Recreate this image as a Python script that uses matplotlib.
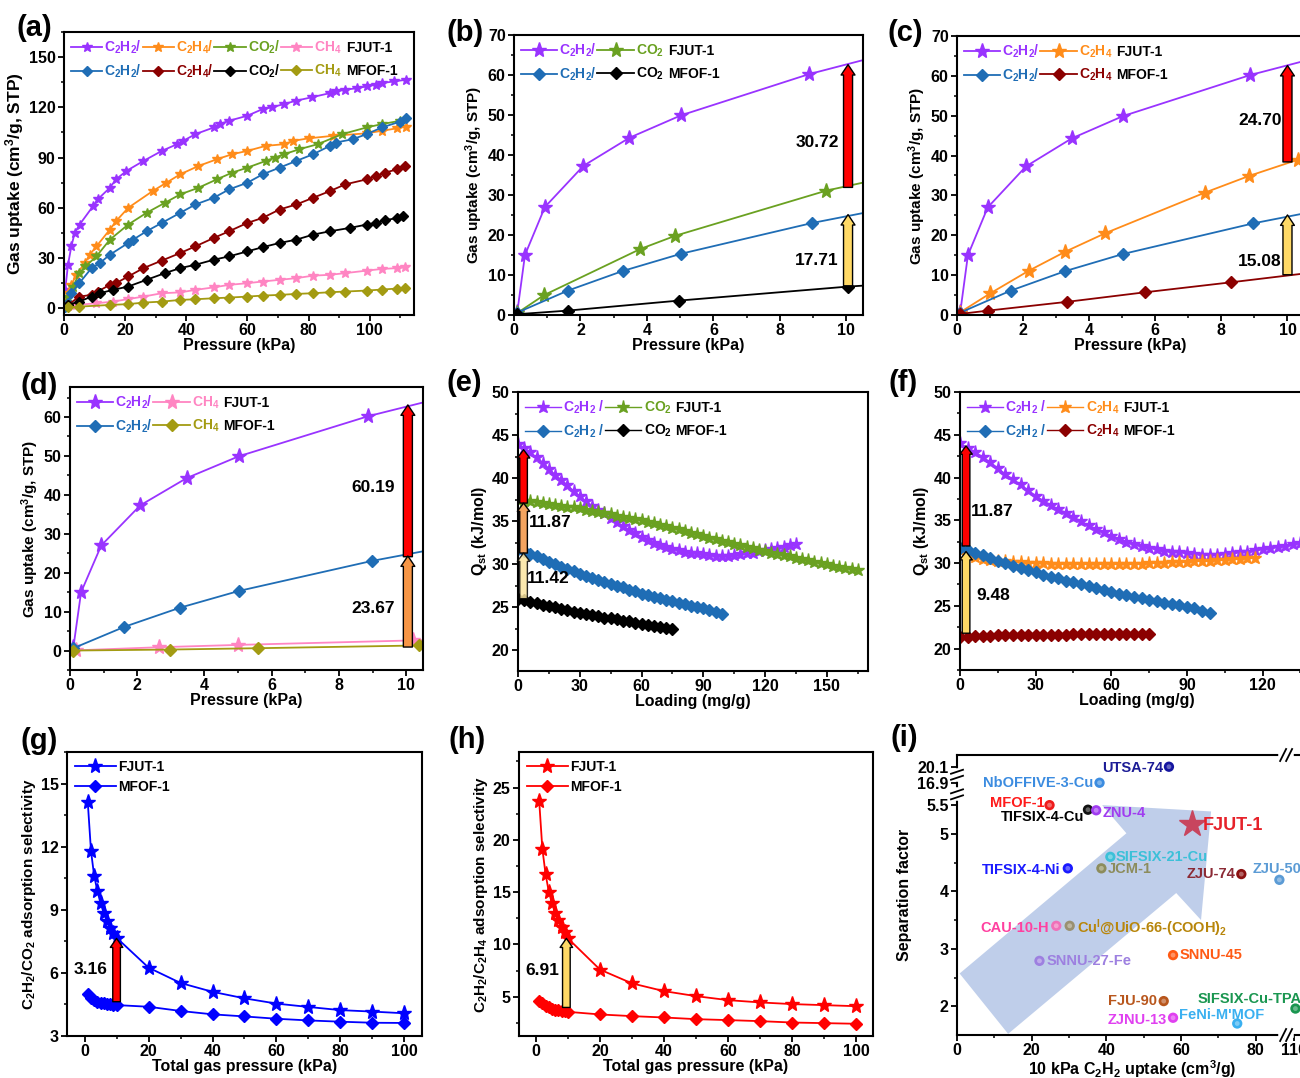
import numpy as np
import matplotlib
matplotlib.use('Agg')
import matplotlib.pyplot as plt
from matplotlib.lines import Line2D
from matplotlib.patches import Polygon
from matplotlib.transforms import IdentityTransform
from matplotlib.ticker import MultipleLocator, FixedLocator

plt.rcParams['font.family'] = ['Liberation Sans', 'DejaVu Sans']
plt.rcParams['font.weight'] = 'bold'
plt.rcParams['axes.labelweight'] = 'bold'
plt.rcParams['mathtext.fontset'] = 'custom'
plt.rcParams['mathtext.default'] = 'regular'
plt.rcParams['axes.linewidth'] = 1.5
for k in ('xtick', 'ytick'):
    plt.rcParams[k + '.direction'] = 'out'
    plt.rcParams[k + '.major.width'] = 1.3
    plt.rcParams[k + '.major.size'] = 4
    plt.rcParams[k + '.minor.width'] = 1.1
    plt.rcParams[k + '.minor.size'] = 2.5
    plt.rcParams[k + '.labelsize'] = 11.5
    plt.rcParams[k + '.major.pad'] = 2

PURPLE = '#9933ff'
ORANGE = '#ff8c1a'
GREEN = '#6aa121'
PINK = '#ff85c2'
BLUE = '#1f6db5'
DRED = '#8b0000'
OLIVE = '#a39b12'

# ---------------- (a) isotherms 0-110 kPa ----------------
a_fj_c2h2_x = [0.4, 1.3, 2.4, 3.5, 5.1, 9.5, 11, 15, 17, 20.4, 26, 32, 37, 39, 43, 49, 51, 54, 60, 65, 68, 72, 76, 81, 87, 89, 92, 96, 99, 102, 104, 108, 112]
a_fj_c2h2_y = [11, 26, 37, 45, 50, 61, 65, 72, 77, 82, 88, 94, 98, 100, 104, 108, 110, 112, 115, 119, 120, 122, 124, 126, 128.5, 129.5, 130.5, 131.5, 132.5, 133.5, 134.5, 135.5, 136.5]
a_fj_c2h4_x = [0.4, 1.3, 2.4, 4, 6.8, 8.4, 10.6, 15, 17, 21, 29, 33.5, 38, 44, 50, 55, 60, 66, 72, 75, 80, 88, 99, 104, 109, 112]
a_fj_c2h4_y = [3, 9, 14, 20, 27, 32, 37, 47, 52, 60, 70, 75, 80, 85, 89, 92, 94, 97, 98, 100, 101.5, 103, 104.5, 106, 107.5, 108.5]
a_fj_co2_x = [0.4, 1.3, 3, 5, 7, 10.6, 15, 21, 27, 33, 38, 44, 50, 55, 60, 66, 69, 72, 77, 83, 91, 99, 104, 110]
a_fj_co2_y = [2, 7, 13, 21, 25, 31, 41, 50, 57, 63, 68, 72, 77, 81, 84, 88, 90, 92, 95, 98, 104, 108, 110, 112]
a_fj_ch4_x = [1.3, 4, 10.6, 16, 21, 26, 32, 38, 43, 49, 54, 60, 65, 70.5, 76, 81.5, 87, 92, 99, 104, 109, 111.5]
a_fj_ch4_y = [1.4, 2, 3, 4, 5.5, 7, 9, 9.5, 11, 12.5, 14, 15, 16, 17, 18, 19.5, 20, 21, 22.5, 23.5, 24, 24.5]
a_mf_c2h2_x = [0.4, 1.3, 2.4, 5, 9, 11.7, 15, 21, 22.6, 27, 32, 38, 43, 49, 54, 60, 65, 70.5, 76, 81.5, 87, 89, 94.5, 99, 104, 110, 112]
a_mf_c2h2_y = [1, 3, 9, 15, 24, 27, 32, 39, 41, 46, 51, 57, 62, 66, 71, 75, 80, 84, 88, 92, 97, 99, 101, 104, 108, 111.5, 113.5]
a_mf_c2h4_x = [1.3, 5, 9, 11, 15, 17, 21, 26, 32, 38, 43, 49, 54, 60, 65, 70.5, 76, 81.5, 87, 92, 99, 102, 105, 109, 111.5]
a_mf_c2h4_y = [2, 7, 8, 10, 14, 15, 19, 24, 28.5, 33, 37, 42, 46, 51, 54, 59, 62, 66, 70, 74, 77, 79, 81, 83, 85]
a_mf_co2_x = [1.3, 5, 9, 11.7, 16, 21, 27, 33, 38, 43, 49, 54, 60, 65, 70.5, 76, 81.5, 87, 93.5, 99, 102, 105, 109, 111]
a_mf_co2_y = [2, 4, 7, 9, 11, 13, 17, 21, 24, 26, 29, 31, 34, 36.5, 39, 41, 44, 46, 48, 50, 51, 52.5, 54, 55]
a_mf_ch4_x = [1.3, 5, 15, 21, 26, 32, 38, 43, 49, 54, 60, 65, 70.5, 76, 81.5, 87, 92, 99, 104, 109, 111.5]
a_mf_ch4_y = [0.5, 1, 2, 2.5, 3.4, 4, 5, 5.4, 6, 6.4, 7, 7.6, 8, 8.6, 9, 9.6, 10, 10.6, 11.2, 11.8, 12]

# ---------------- (b)-(d) isotherms 0-10 kPa ----------------
lp_fj_c2h2_x = [0.1, 0.33, 0.93, 2.09, 3.47, 5.02, 8.87, 11.0]
lp_fj_c2h2_y = [0.8, 15, 27, 37.3, 44.3, 49.9, 60.2, 64.8]
lp_fj_co2_x = [0.08, 0.91, 3.8, 4.85, 9.4, 11.0]
lp_fj_co2_y = [0.4, 5, 16.5, 19.8, 31.1, 34.0]
lp_fj_c2h4_x = [0.08, 1.0, 2.17, 3.28, 4.48, 7.5, 8.84, 10.33, 11.0]
lp_fj_c2h4_y = [0.6, 5.4, 11.1, 15.9, 20.5, 30.7, 34.9, 39.0, 40.5]
lp_fj_ch4_x = [0.18, 2.66, 5.01, 10.2, 11.0]
lp_fj_ch4_y = [0.05, 0.85, 1.45, 2.6, 2.8]
lp_mf_c2h2_x = [0.1, 1.62, 3.27, 5.02, 8.97, 11.0]
lp_mf_c2h2_y = [0.6, 6.1, 11.0, 15.3, 23.0, 26.3]
lp_mf_co2_x = [0.1, 1.62, 4.96, 10.04, 11.0]
lp_mf_co2_y = [0.2, 1.1, 3.6, 7.1, 7.6]
lp_mf_c2h4_x = [0.08, 0.94, 3.33, 5.69, 8.29, 10.6]
lp_mf_c2h4_y = [0.25, 1.1, 3.3, 5.7, 8.2, 10.5]
lp_mf_ch4_x = [0.1, 2.96, 5.6, 10.37, 11.0]
lp_mf_ch4_y = [0.0, 0.25, 0.6, 1.3, 1.4]

# ---------------- (e)-(f) Qst ----------------
load_165 = [0, 3, 6, 9, 12, 15, 18, 21, 24, 27, 30, 33, 36, 39, 42, 45, 48, 51, 54, 57, 60, 63, 66, 69,
            72, 75, 78, 81, 84, 87, 90, 93, 96, 99, 102, 105, 108, 111, 114, 117, 120, 123, 126, 129,
            132, 135, 138, 141, 144, 147, 150, 153, 156, 159, 162, 165]
load_135 = load_165[:46]
load_117 = load_165[:40]
load_99 = load_165[:34]
load_75 = load_165[:26]
q_fj_c2h2 = [44.0, 43.5, 43.0, 42.4, 41.8, 41.1, 40.4, 39.8, 39.2, 38.5, 37.9, 37.3, 36.8, 36.3, 35.9, 35.4,
             34.9, 34.4, 34.0, 33.6, 33.2, 32.8, 32.5, 32.2, 32.0, 31.8, 31.6, 31.45, 31.35, 31.25, 31.15,
             31.05, 31.0, 31.0, 31.0, 31.05, 31.15, 31.25, 31.35, 31.5, 31.6, 31.75, 31.9, 32.05, 32.25, 32.4]
q_fj_co2 = [37.5, 37.4, 37.3, 37.2, 37.1, 37.0, 36.9, 36.8, 36.7, 36.6, 36.5, 36.35, 36.2, 36.1, 35.95, 35.8,
            35.65, 35.5, 35.4, 35.25, 35.1, 34.9, 34.75, 34.55, 34.4, 34.2, 34.05, 33.85, 33.65, 33.5, 33.3,
            33.1, 32.95, 32.75, 32.6, 32.4, 32.2, 32.05, 31.85, 31.7, 31.5, 31.35, 31.2, 31.05, 30.9, 30.75,
            30.6, 30.45, 30.3, 30.15, 30.0, 29.85, 29.7, 29.6, 29.45, 29.3]
q_mf_c2h2 = [31.8, 31.5, 31.2, 30.9, 30.6, 30.3, 30.0, 29.7, 29.45, 29.2, 28.9, 28.65, 28.4, 28.2, 27.95, 27.75,
             27.5, 27.3, 27.05, 26.85, 26.6, 26.4, 26.25, 26.05, 25.9, 25.7, 25.55, 25.35, 25.2, 25.05, 24.9,
             24.7, 24.45, 24.2]
q_mf_co2 = [26.0, 25.8, 25.65, 25.5, 25.3, 25.15, 25.0, 24.8, 24.65, 24.5, 24.3, 24.2, 24.05, 23.95, 23.8, 23.7,
            23.6, 23.45, 23.35, 23.2, 23.1, 23.0, 22.85, 22.75, 22.6, 22.5]
q_fj_c2h4 = [31.5, 31.0, 30.7, 30.5, 30.35, 30.25, 30.2, 30.15, 30.1, 30.05, 30.0, 30.0, 29.95, 29.95, 29.9, 29.9,
             29.9, 29.9, 29.9, 29.9, 29.9, 29.9, 29.9, 29.95, 29.95, 30.0, 30.0, 30.05, 30.1, 30.1, 30.15, 30.2,
             30.25, 30.3, 30.35, 30.4, 30.45, 30.5, 30.55, 30.6]
q_mf_c2h4 = [21.3, 21.4, 21.45, 21.5, 21.5, 21.55, 21.55, 21.6, 21.6, 21.6, 21.6, 21.65, 21.65, 21.65, 21.65,
             21.7, 21.7, 21.7, 21.7, 21.7, 21.7, 21.7, 21.75, 21.75, 21.75, 21.75]

# ---------------- (g)-(h) IAST selectivity ----------------
p_total = [1, 2, 3, 4, 5, 6, 7, 8, 9, 10, 20, 30, 40, 50, 60, 70, 80, 90, 100]
s_co2_fj = [14.1, 11.8, 10.6, 9.9, 9.3, 8.85, 8.45, 8.15, 7.9, 7.67, 6.25, 5.52, 5.1, 4.79, 4.54, 4.38, 4.23, 4.16, 4.08]
s_co2_mf = [5.0, 4.82, 4.69, 4.63, 4.58, 4.55, 4.54, 4.5, 4.49, 4.47, 4.39, 4.19, 4.03, 3.93, 3.82, 3.74, 3.68, 3.63, 3.62]
s_c2h4_fj = [23.76, 19.13, 16.74, 15.05, 13.93, 12.97, 12.34, 11.7, 11.22, 10.58, 7.6, 6.28, 5.54, 5.06, 4.68, 4.46, 4.3, 4.2, 4.1]
s_c2h4_mf = [4.62, 4.36, 4.14, 3.98, 3.85, 3.76, 3.69, 3.63, 3.6, 3.56, 3.31, 3.15, 3.02, 2.86, 2.77, 2.67, 2.54, 2.48, 2.42]

# ---------------- (i) comparison ----------------
i_names = ['UTSA-74', 'NbOFFIVE-3-Cu', 'MFOF-1', 'TIFSIX-4-Cu', 'ZNU-4', 'SIFSIX-21-Cu', 'JCM-1',
           'TIFSIX-4-Ni', 'ZJU-74', 'ZJU-50', 'CAU-10-H', 'Cu$^{I}$@UiO-66-(COOH)$_2$', 'SNNU-45',
           'SNNU-27-Fe', 'FJU-90', 'ZJNU-13', "FeNi-M'MOF", 'SIFSIX-Cu-TPA']
i_uptake = [56.8, 38.2, 24.8, 35.1, 37.3, 41.1, 38.7, 29.7, 76.2, 86.4, 26.6, 30.2, 57.9, 22.1, 55.4, 57.9, 75.1, 110.3]
i_factor = [20.1, 16.9, 5.5, 5.42, 5.41, 4.60, 4.40, 4.40, 4.30, 4.20, 3.40, 3.40, 2.89, 2.79, 2.09, 1.80, 1.70, 1.96]
fjut_uptake, fjut_factor = 63.0, 5.17

i_pt_colors = ['#1515a0', '#3c8ce0', '#ee1c1c', '#111111', '#a03cf0', '#3cc0d8', '#8c8c5c', '#1a1aff',
               '#8b1010', '#5b9bd5', '#f070b8', '#9a9070', '#ff5a14', '#9d80e0', '#b8561c', '#e040f0',
               '#3ab0f0', '#1a9650']
i_txt_colors = ['#1c1c96', '#3c8ce0', '#ff1a1a', '#000000', '#a03cf0', '#3cc0d8', '#8c8c5c', '#1a1aff',
                '#8b2a35', '#5b9bd5', '#ff40a0', '#b8860b', '#ff5a14', '#9d80e0', '#b8561c', '#e040f0',
                '#3ab0f0', '#1a9650']
# label offset in pixels (dx, dy) and alignment
i_offsets = [(-6, -1, 'right'), (-6, 0, 'right'), (-5, 2, 'right'), (-4, -7, 'right'), (6, -3, 'left'),
             (5, 0, 'left'), (6, -1, 'left'), (-7, -2, 'right'), (-6, 0, 'right'), (-27, 11, 'left'),
             (-7, -2, 'right'), (7, -2, 'left'), (7, 0, 'left'), (7, 0, 'left'), (-7, 0, 'right'),
             (-6, -2, 'right'), (-16, 9, 'center'), (-98, 10, 'left')]

W, H = 1300, 1078
fig = plt.figure(figsize=(W / 100, H / 100), dpi=100)


def box(l, t, r, b):
    return fig.add_axes([l / W, 1 - b / H, (r - l) / W, (b - t) / H])


def up_arrow(ax, x, y0, y1, color, tw, hw, hl, alpha=1.0):
    ax.annotate('', xy=(x, y1), xytext=(x, y0),
                arrowprops=dict(arrowstyle='simple,head_length=%g,head_width=%g,tail_width=%g' % (hl, hw, tw),
                                fc=color, ec='k', lw=1.0, alpha=alpha, shrinkA=0, shrinkB=0,
                                mutation_scale=1))


name_tags = []


def gas_legend(ax, handles, labels, ncol, names, hlen=2.6):
    leg = ax.legend(handles, labels, ncol=ncol, loc='upper left', bbox_to_anchor=(0.0, 1.0),
                    frameon=False, fontsize=10, handlelength=hlen, handletextpad=0.15,
                    columnspacing=0.05, labelspacing=0.45, borderaxespad=0.3, borderpad=0.2,
                    labelcolor='linecolor')
    name_tags.append((leg, names))
    return leg


def star(ax, x, y, c, ms, lw=1.3):
    return ax.plot(x, y, '-', marker='*', color=c, ms=ms, lw=lw)[0]


def diam(ax, x, y, c, ms, lw=1.3):
    return ax.plot(x, y, '-', marker='D', color=c, ms=ms, lw=lw)[0]


# ---- (a)
ax = box(64, 32, 414, 315)
l1 = star(ax, a_fj_c2h2_x, a_fj_c2h2_y, PURPLE, 7.5)
l2 = star(ax, a_fj_c2h4_x, a_fj_c2h4_y, ORANGE, 7.5)
l3 = star(ax, a_fj_co2_x, a_fj_co2_y, GREEN, 7.5)
l4 = star(ax, a_fj_ch4_x, a_fj_ch4_y, PINK, 7.5)
m1 = diam(ax, a_mf_c2h2_x, a_mf_c2h2_y, BLUE, 5)
m2 = diam(ax, a_mf_c2h4_x, a_mf_c2h4_y, DRED, 5)
m3 = diam(ax, a_mf_co2_x, a_mf_co2_y, 'k', 5)
m4 = diam(ax, a_mf_ch4_x, a_mf_ch4_y, OLIVE, 5)
ax.set_xlim(0, 114.5)
ax.set_ylim(-4, 165)
ax.xaxis.set_major_locator(MultipleLocator(20))
ax.xaxis.set_minor_locator(MultipleLocator(10))
ax.yaxis.set_major_locator(MultipleLocator(30))
ax.yaxis.set_minor_locator(MultipleLocator(15))
ax.set_xlabel('Pressure (kPa)', fontsize=11.5, labelpad=0)
ax.set_ylabel('Gas uptake (cm$^3$/g, STP)', fontsize=12.5, labelpad=2)
gas_legend(ax, [l1, m1, l2, m2, l3, m3, l4, m4],
           ['C$_2$H$_2$/', 'C$_2$H$_2$/', 'C$_2$H$_4$/', 'C$_2$H$_4$/', 'CO$_2$/', 'CO$_2$/', 'CH$_4$', 'CH$_4$'],
           4, ['FJUT-1', 'MFOF-1'], hlen=2.25)


def low_p_axes(ax, ylo, yhi):
    ax.set_xlim(0, 10.5)
    ax.set_ylim(ylo, yhi)
    ax.xaxis.set_major_locator(MultipleLocator(2))
    ax.xaxis.set_minor_locator(MultipleLocator(1))
    ax.yaxis.set_major_locator(MultipleLocator(10))
    ax.yaxis.set_minor_locator(MultipleLocator(5))
    ax.set_xlabel('Pressure (kPa)', fontsize=11.5, labelpad=0)
    ax.set_ylabel('Gas uptake (cm$^3$/g, STP)', fontsize=11, labelpad=2)


# ---- (b)
ax = box(514, 35, 863, 315)
l1 = star(ax, lp_fj_c2h2_x, lp_fj_c2h2_y, PURPLE, 11)
l2 = star(ax, lp_fj_co2_x, lp_fj_co2_y, GREEN, 11)
m1 = diam(ax, lp_mf_c2h2_x, lp_mf_c2h2_y, BLUE, 6.5)
m2 = diam(ax, lp_mf_co2_x, lp_mf_co2_y, 'k', 6.5)
low_p_axes(ax, 0, 70)
up_arrow(ax, 10.05, 31.9, 62.6, '#ff0000', 6.5, 10, 7.5)
up_arrow(ax, 10.05, 7.3, 25.1, '#ffd966', 6.5, 10, 7.5)
ax.text(9.77, 43.2, '30.72', ha='right', va='center', fontsize=12.5)
ax.text(9.77, 13.7, '17.71', ha='right', va='center', fontsize=12.5)
gas_legend(ax, [l1, m1, l2, m2], ['C$_2$H$_2$/', 'C$_2$H$_2$/', 'CO$_2$', 'CO$_2$'], 2, ['FJUT-1', 'MFOF-1'])

# ---- (c)
ax = box(957, 36, 1304, 315)
l1 = star(ax, lp_fj_c2h2_x, lp_fj_c2h2_y, PURPLE, 11)
l2 = star(ax, lp_fj_c2h4_x, lp_fj_c2h4_y, ORANGE, 11)
m1 = diam(ax, lp_mf_c2h2_x, lp_mf_c2h2_y, BLUE, 6.5)
m2 = diam(ax, lp_mf_c2h4_x, lp_mf_c2h4_y, DRED, 6.5)
low_p_axes(ax, 0, 70)
up_arrow(ax, 10.0, 38.4, 62.6, '#ff0000', 6.5, 10, 7.5)
up_arrow(ax, 10.0, 10.1, 25.1, '#ffd966', 6.5, 10, 7.5)
ax.text(9.83, 48.9, '24.70', ha='right', va='center', fontsize=12.5)
ax.text(9.83, 13.4, '15.08', ha='right', va='center', fontsize=12.5)
gas_legend(ax, [l1, m1, l2, m2], ['C$_2$H$_2$/', 'C$_2$H$_2$/', 'C$_2$H$_4$', 'C$_2$H$_4$'], 2, ['FJUT-1', 'MFOF-1'])

# ---- (d)
ax = box(70, 387, 423, 670)
l1 = star(ax, lp_fj_c2h2_x, lp_fj_c2h2_y, PURPLE, 11)
l2 = star(ax, lp_fj_ch4_x, lp_fj_ch4_y, PINK, 11)
m1 = diam(ax, lp_mf_c2h2_x, lp_mf_c2h2_y, BLUE, 6.5)
m2 = diam(ax, lp_mf_ch4_x, lp_mf_ch4_y, OLIVE, 6.5)
low_p_axes(ax, -5, 67.7)
up_arrow(ax, 10.05, 24.1, 63.1, '#ff0000', 6.5, 10, 7.5)
up_arrow(ax, 10.05, 0.9, 24.3, '#f79646', 6.5, 10, 7.5)
ax.text(9.67, 42, '60.19', ha='right', va='center', fontsize=12.5)
ax.text(9.67, 10.9, '23.67', ha='right', va='center', fontsize=12.5)
gas_legend(ax, [l1, m1, l2, m2], ['C$_2$H$_2$/', 'C$_2$H$_2$/', 'CH$_4$', 'CH$_4$'], 2, ['FJUT-1', 'MFOF-1'])


def qst_axes(ax, xhi, ylo):
    ax.set_xlim(0, xhi)
    ax.set_ylim(ylo, 50)
    ax.xaxis.set_major_locator(MultipleLocator(30))
    ax.xaxis.set_minor_locator(MultipleLocator(15))
    ax.yaxis.set_major_locator(MultipleLocator(5))
    ax.yaxis.set_minor_locator(MultipleLocator(2.5))
    ax.set_xlabel('Loading (mg/g)', fontsize=11.5, labelpad=0)
    ax.set_ylabel('Q$_{st}$ (kJ/mol)', fontsize=11.5, labelpad=2)


# ---- (e)
ax = box(518, 392, 868, 671)
l1 = star(ax, load_135, q_fj_c2h2, PURPLE, 9.5, lw=1)
l2 = star(ax, load_165, q_fj_co2, GREEN, 9.5, lw=1)
m1 = diam(ax, load_99, q_mf_c2h2, BLUE, 6.2, lw=1)
m2 = diam(ax, load_75, q_mf_co2, 'k', 6.2, lw=1)
qst_axes(ax, 170, 17.6)
up_arrow(ax, 2.7, 37.1, 43.3, '#ff0000', 5.5, 9, 6)
up_arrow(ax, 2.7, 31.3, 37.1, '#f4a460', 5.5, 9, 6)
up_arrow(ax, 2.7, 26.0, 31.3, '#fbe5a0', 5.5, 9, 6, alpha=0.85)
ax.text(5.2, 34.8, '11.87', ha='left', va='center', fontsize=12.5)
ax.text(4.1, 28.3, '11.42', ha='left', va='center', fontsize=12.5)
gas_legend(ax, [l1, m1, l2, m2], ['C$_2$H$_2$ /', 'C$_2$H$_2$ /', 'CO$_2$', 'CO$_2$'], 2, ['FJUT-1', 'MFOF-1'])

# ---- (f)
ax = box(960, 392, 1313, 670)
l1 = star(ax, load_135, q_fj_c2h2, PURPLE, 9.5, lw=1)
l2 = star(ax, load_117, q_fj_c2h4, ORANGE, 9.5, lw=1)
m1 = diam(ax, load_99, q_mf_c2h2, BLUE, 6.2, lw=1)
m2 = diam(ax, load_75, q_mf_c2h4, DRED, 6.2, lw=1)
qst_axes(ax, 140, 17.5)
up_arrow(ax, 2.4, 32.0, 43.7, '#ff0000', 5.5, 9, 6)
up_arrow(ax, 2.4, 21.8, 31.35, '#ffd966', 5.5, 9, 6)
ax.text(4.2, 36.0, '11.87', ha='left', va='center', fontsize=12.5)
ax.text(6.6, 26.2, '9.48', ha='left', va='center', fontsize=12.5)
gas_legend(ax, [l1, m1, l2, m2], ['C$_2$H$_2$ /', 'C$_2$H$_2$ /', 'C$_2$H$_4$', 'C$_2$H$_4$'], 2, ['FJUT-1', 'MFOF-1'])


def sel_axes(ax, xlim, ylim, ymaj, ymin, ylabel):
    ax.set_xlim(*xlim)
    ax.set_ylim(*ylim)
    ax.xaxis.set_major_locator(MultipleLocator(20))
    ax.xaxis.set_minor_locator(MultipleLocator(10))
    ax.yaxis.set_major_locator(MultipleLocator(ymaj))
    ax.yaxis.set_minor_locator(MultipleLocator(ymin))
    ax.set_xlabel('Total gas pressure (kPa)', fontsize=11.5, labelpad=0)
    ax.set_ylabel(ylabel, fontsize=11, labelpad=2)


# ---- (g)
ax = box(67, 752, 422, 1036)
l1 = star(ax, p_total, s_co2_fj, '#0000ff', 11)
m1 = diam(ax, p_total, s_co2_mf, '#0000ff', 6.5)
sel_axes(ax, (-5.5, 105.5), (3, 16.5), 3, 1.5, 'C$_2$H$_2$/CO$_2$ adsorption selectivity')
up_arrow(ax, 10, 4.63, 7.64, '#ff0000', 5.5, 9, 6.5)
ax.text(7.2, 6.17, '3.16', ha='right', va='center', fontsize=12.5)
ax.legend([l1, m1], ['FJUT-1', 'MFOF-1'], loc='upper left', frameon=False, fontsize=10,
          handlelength=3.0, handletextpad=0.15, labelspacing=0.45, borderaxespad=0.35, borderpad=0.2)

# ---- (h)
ax = box(519, 752, 873, 1036)
l1 = star(ax, p_total, s_c2h4_fj, '#ff0000', 11)
m1 = diam(ax, p_total, s_c2h4_mf, '#ff0000', 6.5)
sel_axes(ax, (-5.3, 105.3), (1.25, 28.4), 5, 2.5, 'C$_2$H$_2$/C$_2$H$_4$ adsorption selectivity')
up_arrow(ax, 9.5, 3.98, 10.58, '#ffd966', 5.5, 9, 6.5)
ax.text(7.3, 7.55, '6.91', ha='right', va='center', fontsize=12.5)
ax.legend([l1, m1], ['FJUT-1', 'MFOF-1'], loc='upper left', frameon=False, fontsize=10,
          handlelength=3.0, handletextpad=0.15, labelspacing=0.45, borderaxespad=0.35, borderpad=0.2)

# ---- (i) broken axes via piecewise scales
ax = box(957, 755, 1307, 1035)


def fy(y):
    return np.interp(y, [-100, 5.5, 16.9, 100], [-100, 5.5, 5.889, 13.135])


def iy(u):
    return np.interp(u, [-100, 5.5, 5.889, 13.135], [-100, 5.5, 16.9, 100])


def fx(x):
    return np.interp(x, [-100, 88, 108, 300], [-100, 88, 88.4, 280.4])


def ix(u):
    return np.interp(u, [-100, 88, 88.4, 280.4], [-100, 88, 108, 300])


ax.set_yscale('function', functions=(fy, iy))
ax.set_xscale('function', functions=(fx, ix))
ax.set_xlim(0, 113.4)
ax.set_ylim(1.5, 22.44)
ax.xaxis.set_major_locator(FixedLocator([0, 20, 40, 60, 80, 110]))
ax.xaxis.set_minor_locator(FixedLocator([10, 30, 50, 70]))
ax.yaxis.set_major_locator(FixedLocator([2, 3, 4, 5, 5.5, 16.9, 20.1]))
ax.yaxis.set_minor_locator(FixedLocator([2.5, 3.5, 4.5]))
ax.set_xticklabels(['0', '20', '40', '60', '80', '110'])
ax.set_yticklabels(['2', '3', '4', '5', '5.5', '16.9', '20.1'])
ax.set_xlabel('10 kPa C$_2$H$_2$ uptake (cm$^3$/g)', fontsize=11.5, labelpad=0)
ax.set_ylabel('Separation factor', fontsize=11.5, labelpad=4)

arrow_verts = [(0.7, 2.57), (45.4, 5.01), (38.9, 5.5), (68.1, 5.39), (65.4, 3.50), (58.75, 3.97), (13.7, 1.52)]
ax.add_patch(Polygon(arrow_verts, closed=True, fc='#b4c6e7', ec='none', alpha=0.85, zorder=1))
ax.scatter(i_uptake, i_factor, s=55, c=i_pt_colors, edgecolors='none', zorder=3)
ax.scatter(i_uptake, i_factor, s=12, c='white', alpha=0.35, edgecolors='none', zorder=4)
for nm, x, y, col, (dx, dy, ha) in zip(i_names, i_uptake, i_factor, i_txt_colors, i_offsets):
    ax.annotate(nm, (x, y), xytext=(dx * 0.72, dy * 0.72), textcoords='offset points',
                ha=ha, va='center', color=col, fontsize=10.5, zorder=5)
ax.plot([fjut_uptake], [fjut_factor], marker='*', ms=20, color='#c8455e', ls='none', zorder=4)
ax.annotate('FJUT-1', (fjut_uptake, fjut_factor), xytext=(11 * 0.72, -1 * 0.72), textcoords='offset points',
            ha='left', va='center', color='#e6222a', fontsize=13, zorder=5)

# break marks
ID = IdentityTransform()
bx = ax.transData.transform((98, 2))[0]
for yfrac in (0, 1):
    by = ax.transAxes.transform((0, yfrac))[1]
    fig.add_artist(Line2D([bx - 5, bx + 5], [by, by], transform=ID, color='w', lw=4, zorder=5))
    for d in (-3, 3):
        fig.add_artist(Line2D([bx + d - 3, bx + d + 3], [by - 6, by + 6], transform=ID, color='k', lw=1.3, zorder=6))
lx = ax.transAxes.transform((0, 0))[0]
for ybr in (11, 18.5):
    ly = ax.transData.transform((1, ybr))[1]
    fig.add_artist(Line2D([lx, lx], [ly - 4, ly + 4], transform=ID, color='w', lw=4, zorder=5))
    for d in (-3, 3):
        fig.add_artist(Line2D([lx - 6, lx + 6], [ly + d - 2, ly + d + 2], transform=ID, color='k', lw=1.3, zorder=6))

# panel letters
for lab, x, y in [('(a)', 17, 28), ('(b)', 447, 33), ('(c)', 888, 33), ('(d)', 20, 386), ('(e)', 447, 383),
                  ('(f)', 889, 383), ('(g)', 20, 741), ('(h)', 448, 740), ('(i)', 890, 738)]:
    fig.text(x / W, 1 - y / H, lab, fontsize=21, fontweight='bold', ha='left', va='center')

# material names after the gas legends
fig.canvas.draw()
for leg, names in name_tags:
    texts = leg.get_texts()[-len(names):]
    for t, nm in zip(texts, names):
        bb = t.get_window_extent()
        fig.text((bb.x1 + 4) / W, (bb.y0 + bb.y1) / 2 / H, nm, ha='left', va='center', fontsize=10, color='k')

fig.savefig('out.png', dpi=100)
